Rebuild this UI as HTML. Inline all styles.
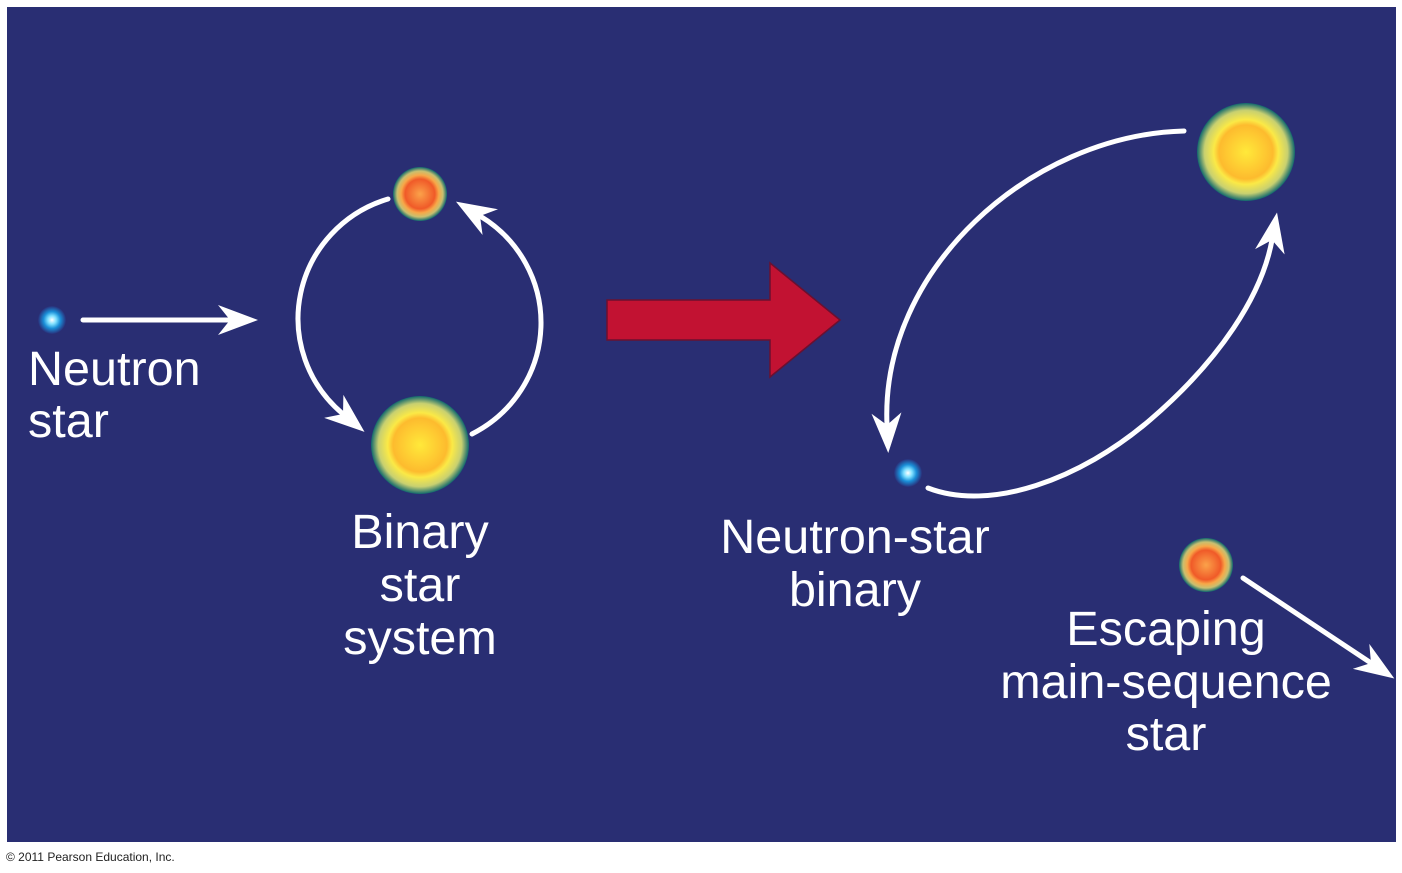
<!DOCTYPE html>
<html><head><meta charset="utf-8"><style>
html,body{margin:0;padding:0;background:#fff;width:1402px;height:873px;overflow:hidden}
svg{display:block}
text{font-family:"Liberation Sans",Arial,sans-serif;fill:#fff}
</style></head><body>
<svg width="1402" height="873" viewBox="0 0 1402 873">
<defs>
<radialGradient id="ys"><stop offset="0" stop-color="#ffe93a"/><stop offset="0.55" stop-color="#fdbb2e"/><stop offset="0.66" stop-color="#fbe946"/><stop offset="0.85" stop-color="#c8d070"/><stop offset="1" stop-color="#10686e"/></radialGradient>
<radialGradient id="os"><stop offset="0" stop-color="#fba24a"/><stop offset="0.55" stop-color="#f05a28"/><stop offset="0.7" stop-color="#f8a848"/><stop offset="0.85" stop-color="#c8c070"/><stop offset="1" stop-color="#10686e"/></radialGradient>
<radialGradient id="ns"><stop offset="0" stop-color="#ffffff"/><stop offset="0.3" stop-color="#7fe0ff"/><stop offset="0.6" stop-color="#1a8fd8"/><stop offset="1" stop-color="#29307a"/></radialGradient>
<marker id="ah" viewBox="0 0 40 30" markerWidth="40" markerHeight="30" refX="12" refY="15" orient="auto" markerUnits="userSpaceOnUse">
<path d="M0,0 L40,15 L0,30 L12,15 Z" fill="#fff"/></marker>
</defs>
<rect x="7" y="7" width="1389" height="835" fill="#292e73"/>
<g fill="none" stroke="#fff" stroke-width="5" stroke-linecap="round">
<path d="M83,320 L230,320" marker-end="url(#ah)"/>
<path d="M388,199 A127,125 0 0 0 343,414" marker-end="url(#ah)"/>
<path d="M472,434 A127,125 0 0 0 480,216" marker-end="url(#ah)"/>
<path d="M1184,131 C1030,135 880,270 887,425" marker-end="url(#ah)"/>
<path d="M928,488 C990,512 1080,480 1150,420 C1220,360 1262,295 1272,240" marker-end="url(#ah)"/>
<path d="M1243,578 L1371,663" marker-end="url(#ah)"/>
</g>
<path d="M607,300 L770,300 L770,263 L840,320 L770,377 L770,340 L607,340 Z" fill="#c21232" stroke="#6a1030" stroke-width="1.5"/>
<circle cx="420" cy="445" r="49" fill="url(#ys)"/>
<circle cx="420" cy="194" r="27" fill="url(#os)"/>
<circle cx="1246" cy="152" r="49" fill="url(#ys)"/>
<circle cx="1206" cy="565" r="27" fill="url(#os)"/>
<circle cx="52" cy="320" r="14" fill="url(#ns)"/>
<circle cx="908" cy="473" r="14" fill="url(#ns)"/>
<g font-size="48.5">
<text x="28" y="385">Neutron</text>
<text x="28" y="437">star</text>
<g text-anchor="middle">
<text x="420" y="548">Binary</text>
<text x="420" y="601">star</text>
<text x="420" y="654">system</text>
<text x="855" y="553">Neutron-star</text>
<text x="855" y="606">binary</text>
<text x="1166" y="645">Escaping</text>
<text x="1166" y="698">main-sequence</text>
<text x="1166" y="750">star</text>
</g></g>
<text x="6" y="861" font-size="12" style="fill:#222">© 2011 Pearson Education, Inc.</text>
</svg>
</body></html>
